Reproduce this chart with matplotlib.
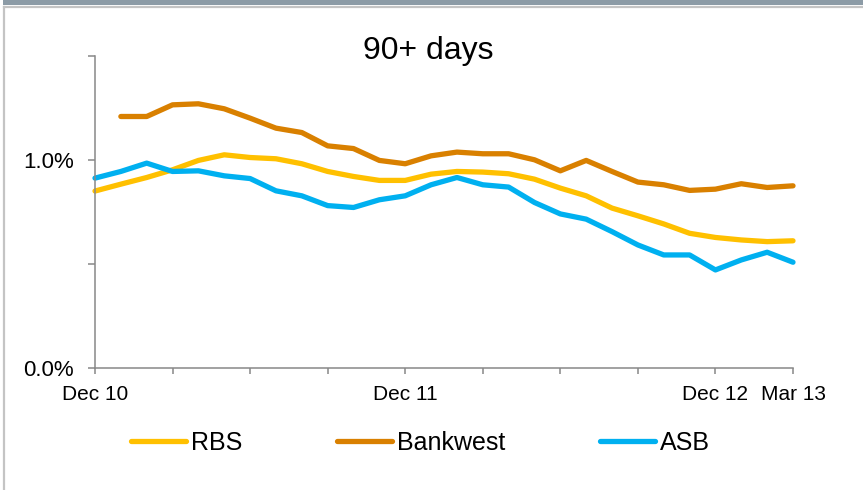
import numpy as np
import matplotlib
matplotlib.use("Agg")
import matplotlib.pyplot as plt
from matplotlib.lines import Line2D

plt.rcParams['font.family'] = ['Liberation Sans', 'DejaVu Sans']

# monthly, Dec 10 .. Mar 13 (28 points), values in %
months = np.arange(28)
rbs = [0.850, 0.883, 0.915, 0.952, 0.997, 1.024, 1.011, 1.005, 0.981, 0.944,
       0.920, 0.901, 0.901, 0.931, 0.944, 0.941, 0.933, 0.907, 0.864, 0.827,
       0.768, 0.731, 0.692, 0.647, 0.627, 0.615, 0.607, 0.611]
bankwest = [np.nan, 1.208, 1.208, 1.264, 1.269, 1.245, 1.200, 1.152, 1.131, 1.067,
            1.054, 0.997, 0.981, 1.019, 1.037, 1.029, 1.029, 1.000, 0.947, 0.997,
            0.944, 0.893, 0.880, 0.853, 0.859, 0.885, 0.867, 0.875]
asb = [0.912, 0.944, 0.984, 0.944, 0.947, 0.923, 0.910, 0.851, 0.827, 0.780,
       0.771, 0.808, 0.827, 0.880, 0.915, 0.880, 0.869, 0.795, 0.740, 0.715,
       0.655, 0.591, 0.543, 0.543, 0.471, 0.519, 0.556, 0.508]

series_names = ['RBS', 'Bankwest', 'ASB']
series_colors = ['#FFC000', '#D98000', '#00B0F0']
xtick_pos = list(range(0, 28, 3))
xtick_labels = ['Dec 10', '', '', '', 'Dec 11', '', '', '', 'Dec 12', 'Mar 13']
ytick_pos = [0.0, 0.5, 1.0, 1.5]
ytick_labels = ['0.0%', '', '1.0%', '']

W, H = 863, 490
fig = plt.figure(figsize=(W / 100, H / 100), dpi=100)
ax = fig.add_axes([95 / W, 1 - 368 / H, (793 - 95) / W, (368 - 55.7) / H])

grey = '#888888'
lw = 3.8
for vals, name, col in zip([rbs, bankwest, asb], series_names, series_colors):
    ax.plot(months, vals, color=col, lw=lw, label=name,
            solid_capstyle='round', solid_joinstyle='round', clip_on=False)

ax.set_xlim(0, 27)
ax.set_ylim(0, 1.5)
ax.set_xticks(xtick_pos)
ax.set_xticklabels(xtick_labels, fontsize=15)
ax.set_yticks(ytick_pos)
ax.set_yticklabels(ytick_labels, fontsize=16)

for s in ['top', 'right']:
    ax.spines[s].set_visible(False)
for s in ['left', 'bottom']:
    ax.spines[s].set_color(grey)
    ax.spines[s].set_linewidth(1.1)
ax.tick_params(axis='x', direction='out', length=4.5, width=1.1, color=grey, pad=8)
ax.tick_params(axis='y', direction='out', length=5, width=1.1, color=grey, pad=10)

fig.text(428 / W, 1 - 59 / H, '90+ days', fontsize=23, ha='center', va='baseline')

handles = [Line2D([], [], color=c, lw=lw, solid_capstyle='round') for c in series_colors]
fig.legend(handles, series_names, loc='center', bbox_to_anchor=(420.5 / W, 1 - 443 / H),
           ncol=3, frameon=False, fontsize=18, handlelength=2.2, handletextpad=0.2,
           columnspacing=3.8)

# frame around the chart area
fig.add_artist(plt.Rectangle((3 / W, 1 - 5 / H), 1, 5 / H, transform=fig.transFigure,
                             color='#8C9BA6', lw=0))
fig.add_artist(Line2D([4 / W, 4 / W], [0, 1 - 7.5 / H], transform=fig.transFigure,
                      color='#C4C4C4', lw=1.6))
fig.add_artist(Line2D([4 / W, 1], [1 - 7.5 / H, 1 - 7.5 / H], transform=fig.transFigure,
                      color='#C4C4C4', lw=1.6))

fig.savefig('out.png', dpi=100)
